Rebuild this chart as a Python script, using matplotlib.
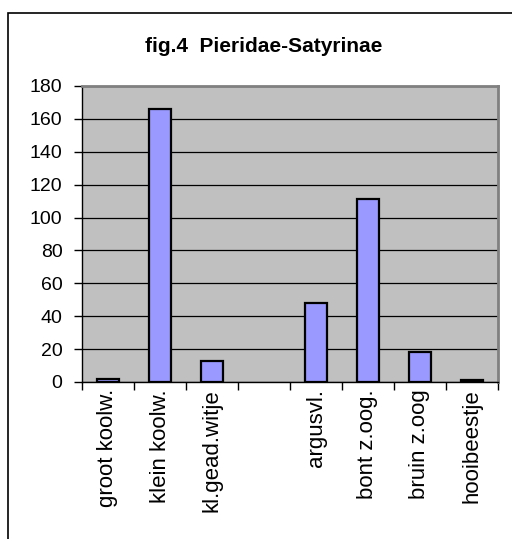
import numpy as np
import matplotlib.pyplot as plt
from matplotlib.patches import Rectangle

plt.rcParams['font.family'] = ['Liberation Sans', 'DejaVu Sans']

soorten = ['groot koolw.', 'klein koolw.', 'kl.gead.witje', '',
           'argusvl.', 'bont z.oog.', 'bruin z.oog', 'hooibeestje']
aantallen = [2, 166, 13, 0, 48, 111, 18, 1]
y_ticks = [0, 20, 40, 60, 80, 100, 120, 140, 160, 180]

fig = plt.figure(figsize=(5.12, 5.39), dpi=100)

# outer chart border (right/bottom fall outside the picture)
fig.patches.append(Rectangle((8/512, -0.1), 1.2, 1 - 13/539 + 0.1,
                             transform=fig.transFigure, fill=False,
                             edgecolor='black', linewidth=1.2))

ax = fig.add_axes([82/512, 1 - 382/539, (498 - 82)/512, (382 - 86)/539])
ax.set_facecolor('#C0C0C0')

x = np.arange(len(soorten))
# no outline for the empty category
randen = ['black' if v > 0 else 'none' for v in aantallen]
ax.bar(x, aantallen, width=0.42, color='#9999FF', edgecolor=randen,
       linewidth=1.6, zorder=3)

ax.set_ylim(0, 180)
ax.set_xlim(-0.5, len(soorten) - 0.5)
ax.set_yticks(y_ticks)
ax.set_yticklabels([str(v) for v in y_ticks], fontsize=14)
ax.yaxis.grid(True, color='black', linewidth=0.9, zorder=1)
ax.set_axisbelow(True)

ax.set_xticks(x)
ax.set_xticklabels(soorten, rotation=90, fontsize=16, va='top')
ax.tick_params(axis='x', which='major', length=0, pad=5)
ax.set_xticks(np.arange(len(soorten) + 1) - 0.5, minor=True)
ax.tick_params(axis='x', which='minor', length=6, width=1, direction='out')
ax.tick_params(axis='y', length=6, width=1, direction='out', pad=8)

for s in ['top', 'right']:
    ax.spines[s].set_color('#808080')
    ax.spines[s].set_linewidth(2)
for s in ['left', 'bottom']:
    ax.spines[s].set_color('black')
    ax.spines[s].set_linewidth(1)

fig.text(264/512, 1 - 46/539, 'fig.4  Pieridae-Satyrinae', ha='center',
         va='center', fontsize=15, fontweight='bold')

fig.savefig('out.png', dpi=100)
